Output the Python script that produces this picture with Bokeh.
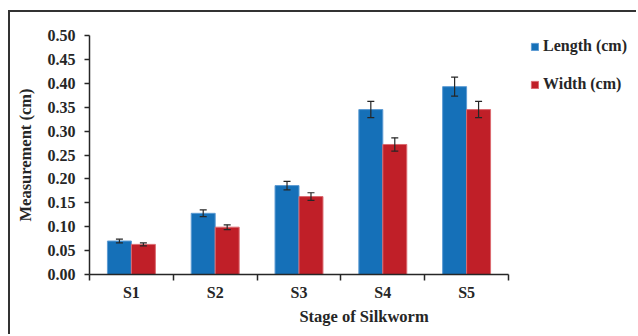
import numpy as np
from bokeh.plotting import figure
from bokeh.models import (ColumnDataSource, Whisker, TeeHead, FixedTicker,
                          NumeralTickFormatter, Legend, LegendItem, Range1d)
from bokeh.embed import file_html
from bokeh.resources import INLINE

# ---- data ----
stages = ["S1", "S2", "S3", "S4", "S5"]
length_cm = [0.070, 0.128, 0.186, 0.345, 0.393]
length_err = [0.004, 0.007, 0.009, 0.017, 0.020]
width_cm = [0.063, 0.099, 0.163, 0.272, 0.345]
width_err = [0.003, 0.005, 0.008, 0.014, 0.017]
y_ticks = [0.00, 0.05, 0.10, 0.15, 0.20, 0.25, 0.30, 0.35, 0.40, 0.45, 0.50]

BLUE = "#1570b8"
RED = "#c01f28"
FONT = "Liberation Serif"
DARK = "#262626"

n = len(stages)
centers = np.arange(n) + 0.5
bw = 0.286
xl = centers - bw / 2
xw = centers + bw / 2

src_l = ColumnDataSource(dict(x=xl, top=length_cm,
                              upper=np.array(length_cm) + np.array(length_err),
                              lower=np.array(length_cm) - np.array(length_err)))
src_w = ColumnDataSource(dict(x=xw, top=width_cm,
                              upper=np.array(width_cm) + np.array(width_err),
                              lower=np.array(width_cm) - np.array(width_err)))

# frame spans to the right edge so the legend can sit inside it;
# the x axis line is bounded to the 5 categories (419 px of the 549 px frame)
x_end = n * 549 / 419
p = figure(width=628, height=324, x_range=Range1d(0, x_end), y_range=Range1d(0, 0.5),
           output_backend="svg", toolbar_location=None,
           min_border_left=79, min_border_right=0, min_border_top=23, min_border_bottom=62)
p.styles = {"margin-left": "8px", "margin-top": "10px",
            "border-top": "2px solid #333", "border-left": "2px solid #333"}

r_l = p.vbar(x="x", top="top", width=bw, bottom=0, source=src_l,
             fill_color=BLUE, line_color="#5d9bd3", line_width=1)
r_w = p.vbar(x="x", top="top", width=bw, bottom=0, source=src_w,
             fill_color=RED, line_color="#dc6a70", line_width=1)

for s in (src_l, src_w):
    wk = Whisker(source=s, base="x", upper="upper", lower="lower",
                 line_color=DARK, line_width=1.2, level="overlay",
                 upper_head=TeeHead(size=7, line_color=DARK, line_width=1.2),
                 lower_head=TeeHead(size=7, line_color=DARK, line_width=1.2))
    p.add_layout(wk)

p.grid.visible = False
p.outline_line_color = None
p.background_fill_color = "white"
p.border_fill_color = "white"

# x axis: ticks at boundaries (minor), labels at centers
xa = p.xaxis[0]
xa.bounds = (0, n)
xa.ticker = FixedTicker(ticks=list(centers), minor_ticks=list(np.arange(n + 1)))
xa.major_label_overrides = {float(c): s for c, s in zip(centers, stages)}
xa.major_tick_line_color = None
xa.minor_tick_line_color = DARK
xa.minor_tick_line_width = 1.5
xa.minor_tick_in = 0
xa.minor_tick_out = 6
xa.axis_label = "Stage of Silkworm"

ya = p.yaxis[0]
ya.ticker = FixedTicker(ticks=y_ticks, minor_ticks=[])
ya.formatter = NumeralTickFormatter(format="0.00")
ya.major_tick_in = 0
ya.major_tick_out = 5
ya.major_tick_line_color = DARK
ya.major_tick_line_width = 1.5
ya.axis_label = "Measurement (cm)"

for ax in (xa, ya):
    ax.axis_line_color = DARK
    ax.axis_line_width = 1.5
    ax.major_label_text_font = FONT
    ax.major_label_text_font_style = "bold"
    ax.major_label_text_font_size = "16px"
    ax.major_label_text_color = DARK
    ax.axis_label_text_font = FONT
    ax.axis_label_text_font_style = "bold"
    ax.axis_label_text_font_size = "16.5px"
    ax.axis_label_text_color = DARK
xa.major_label_standoff = 3
xa.axis_label_standoff = 3
ya.major_label_standoff = 9
ya.axis_label_standoff = 10

legend = Legend(items=[LegendItem(label="Length (cm)", renderers=[r_l]),
                       LegendItem(label="Width (cm)", renderers=[r_w])],
                location=(441, 180), padding=0, margin=0,
                glyph_width=9, glyph_height=9, label_standoff=4,
                label_height=20, spacing=18,
                label_text_font=FONT, label_text_font_style="bold",
                label_text_font_size="16px", label_text_color=DARK,
                border_line_color=None, background_fill_alpha=0)
p.add_layout(legend)

open("out.html", "w").write(file_html(p, INLINE))
